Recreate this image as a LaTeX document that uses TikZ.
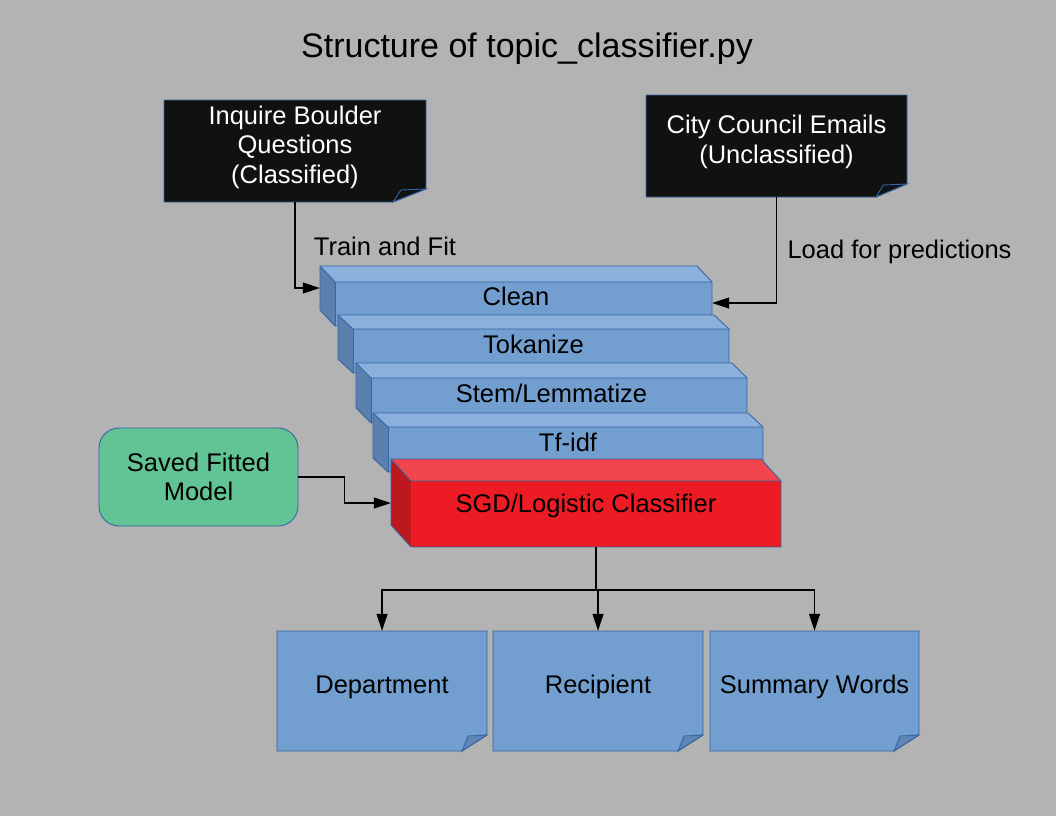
\documentclass[tikz,border=0pt]{standalone}
\usepackage{fontspec}
\setmainfont{Liberation Sans}
\usetikzlibrary{arrows.meta,calc}
\definecolor{bg}{HTML}{B3B3B3}
\definecolor{edgeblue}{HTML}{3465A4}
\definecolor{bfront}{HTML}{729FCF}
\definecolor{btop}{HTML}{8BB0DB}
\definecolor{bside}{HTML}{5B80AD}
\definecolor{rfront}{HTML}{ED1C24}
\definecolor{rtop}{HTML}{F2454D}
\definecolor{rside}{HTML}{BE181F}
\definecolor{notedark}{HTML}{111111}
\definecolor{flapblue}{HTML}{5F85B5}
\definecolor{modelgreen}{HTML}{62C394}
\tikzset{
  edge/.style={draw=edgeblue, line width=0.9pt, line join=miter},
  bluetop/.style={fill=btop}, blueside/.style={fill=bside}, bluefront/.style={fill=bfront},
  bluetext/.style={},
  redtop/.style={fill=rtop}, redside/.style={fill=rside}, redfront/.style={fill=rfront},
  redtext/.style={yshift=-3pt},
  darkbody/.style={fill=notedark, edge}, darkflap/.style={fill=notedark, edge},
  darktext/.style={text=white},
  lightbody/.style={fill=bfront, edge}, lightflap/.style={fill=flapblue, edge},
  lighttext/.style={text=black},
  boxtext/.style={inner sep=0pt, align=center, text=black},
  conn/.style={draw=black, line width=1.1pt, -{Triangle[length=17pt,width=11pt]}},
  plainline/.style={draw=black, line width=1.1pt},
  lbl/.style={inner sep=0pt, text=black},
  every node/.style={font=\fontsize{25.5}{29.5}\selectfont}
}
% #1 name, #2 x1, #3 y1, #4 x2, #5 y2, #6 dx, #7 dy, #8 colour set, #9 text
\newcommand{\cuboid}[9]{%
  \fill[#8top] (#2,#3) -- ({#4-#6},#3) -- (#4,{#3+#7}) -- ({#2+#6},{#3+#7}) -- cycle;
  \fill[#8side] (#2,#3) -- ({#2+#6},{#3+#7}) -- ({#2+#6},#5) -- (#2,{#5-#7}) -- cycle;
  \fill[#8front] ({#2+#6},{#3+#7}) rectangle (#4,#5);
  \draw[edge] (#2,#3) -- ({#4-#6},#3) -- (#4,{#3+#7}) -- (#4,#5) -- ({#2+#6},#5) -- (#2,{#5-#7}) -- cycle;
  \draw[edge] (#2,#3) -- ({#2+#6},{#3+#7}) -- (#4,{#3+#7});
  \draw[edge] ({#2+#6},{#3+#7}) -- ({#2+#6},#5);
  \node[inner sep=0pt, minimum width={(#4-#2)*1pt}, minimum height={(#5-#3)*1pt}] (#1) at ({(#2+#4)/2},{(#3+#5)/2}) {};
  \node[boxtext, #8text] (#1-t) at (#1.center) {#9};
  \coordinate (#1-fs) at ({(#2+#6+#4)/2},#5);
}
% #1 name, #2 x1, #3 y1, #4 x2, #5 y2, #6 fx, #7 fy, #8 style set, #9 text
\newcommand{\notebox}[9]{%
  \path[#8body] (#2,#3) -- (#4,#3) -- (#4,{#5-#7}) -- ({#4-#6},#5) -- (#2,#5) -- cycle;
  \path[#8flap] ({#4-#6},#5) -- (#4,{#5-#7}) -- ({#4-0.76*#6},{#5-#7+1}) -- cycle;
  \node[inner sep=0pt, minimum width={(#4-#2)*1pt}, minimum height={(#5-#3)*1pt}] (#1) at ({(#2+#4)/2},{(#3+#5)/2}) {};
  \node[boxtext, #8text, yshift=4pt] (#1-t) at (#1.center) {#9};
}
\begin{document}
\begin{tikzpicture}[x=1pt,y=-1pt]
\fill[bg] (0,0) rectangle (1056,816);
\useasboundingbox (0,0) rectangle (1056,816);

\node[lbl, anchor=base, font=\fontsize{34}{40}\selectfont] (title) at (527,57) {Structure of topic\_classifier.py};

\notebox{inquire}{164}{100}{426}{202}{33}{13}{dark}{Inquire Boulder\\Questions\\(Classified)}
\notebox{city}{646}{95}{907}{197}{31}{13}{dark}{City Council Emails\\(Unclassified)}

\cuboid{clean}{320}{266}{712}{326}{15}{16}{blue}{Clean}
\cuboid{tok}{338}{315}{729}{373}{15}{14}{blue}{Tokanize}
\cuboid{stem}{356}{363}{747}{423}{15}{15}{blue}{Stem/Lemmatize}
\cuboid{tfidf}{373}{413}{763}{472}{15}{14}{blue}{Tf-idf}
\cuboid{sgd}{391}{459}{781}{547}{20}{22}{red}{SGD/Logistic Classifier}

\node[edge, fill=modelgreen, rounded corners=20pt, minimum width=199pt, minimum height=98pt, align=center, inner sep=0pt] (saved) at (198.5,477) {Saved Fitted\\Model};

\notebox{dept}{277}{631}{487}{751}{25}{16}{light}{Department}
\notebox{recip}{493}{631}{703}{751}{25}{16}{light}{Recipient}
\notebox{summ}{710}{631}{919}{751}{25}{16}{light}{Summary Words}

\node[lbl] (trainlbl) at (385,246) {Train and Fit};
\node[lbl] (loadlbl) at (899.5,252) {Load for predictions};

\draw[conn] (inquire.south) |- ([yshift=8pt]clean.west);
\draw[conn] (city.south) |- ([yshift=-7pt]clean.east);
\draw[conn] (saved.east) -- ++(46,0) |- (sgd.west);

\coordinate (split) at ($(sgd-fs)+(0,43)$);
\draw[plainline] (sgd-fs) -- (split);
\draw[conn] (split) -| (dept.north);
\draw[conn] (split) -| (recip.north);
\draw[conn] (split) -| (summ.north);
\end{tikzpicture}
\end{document}
